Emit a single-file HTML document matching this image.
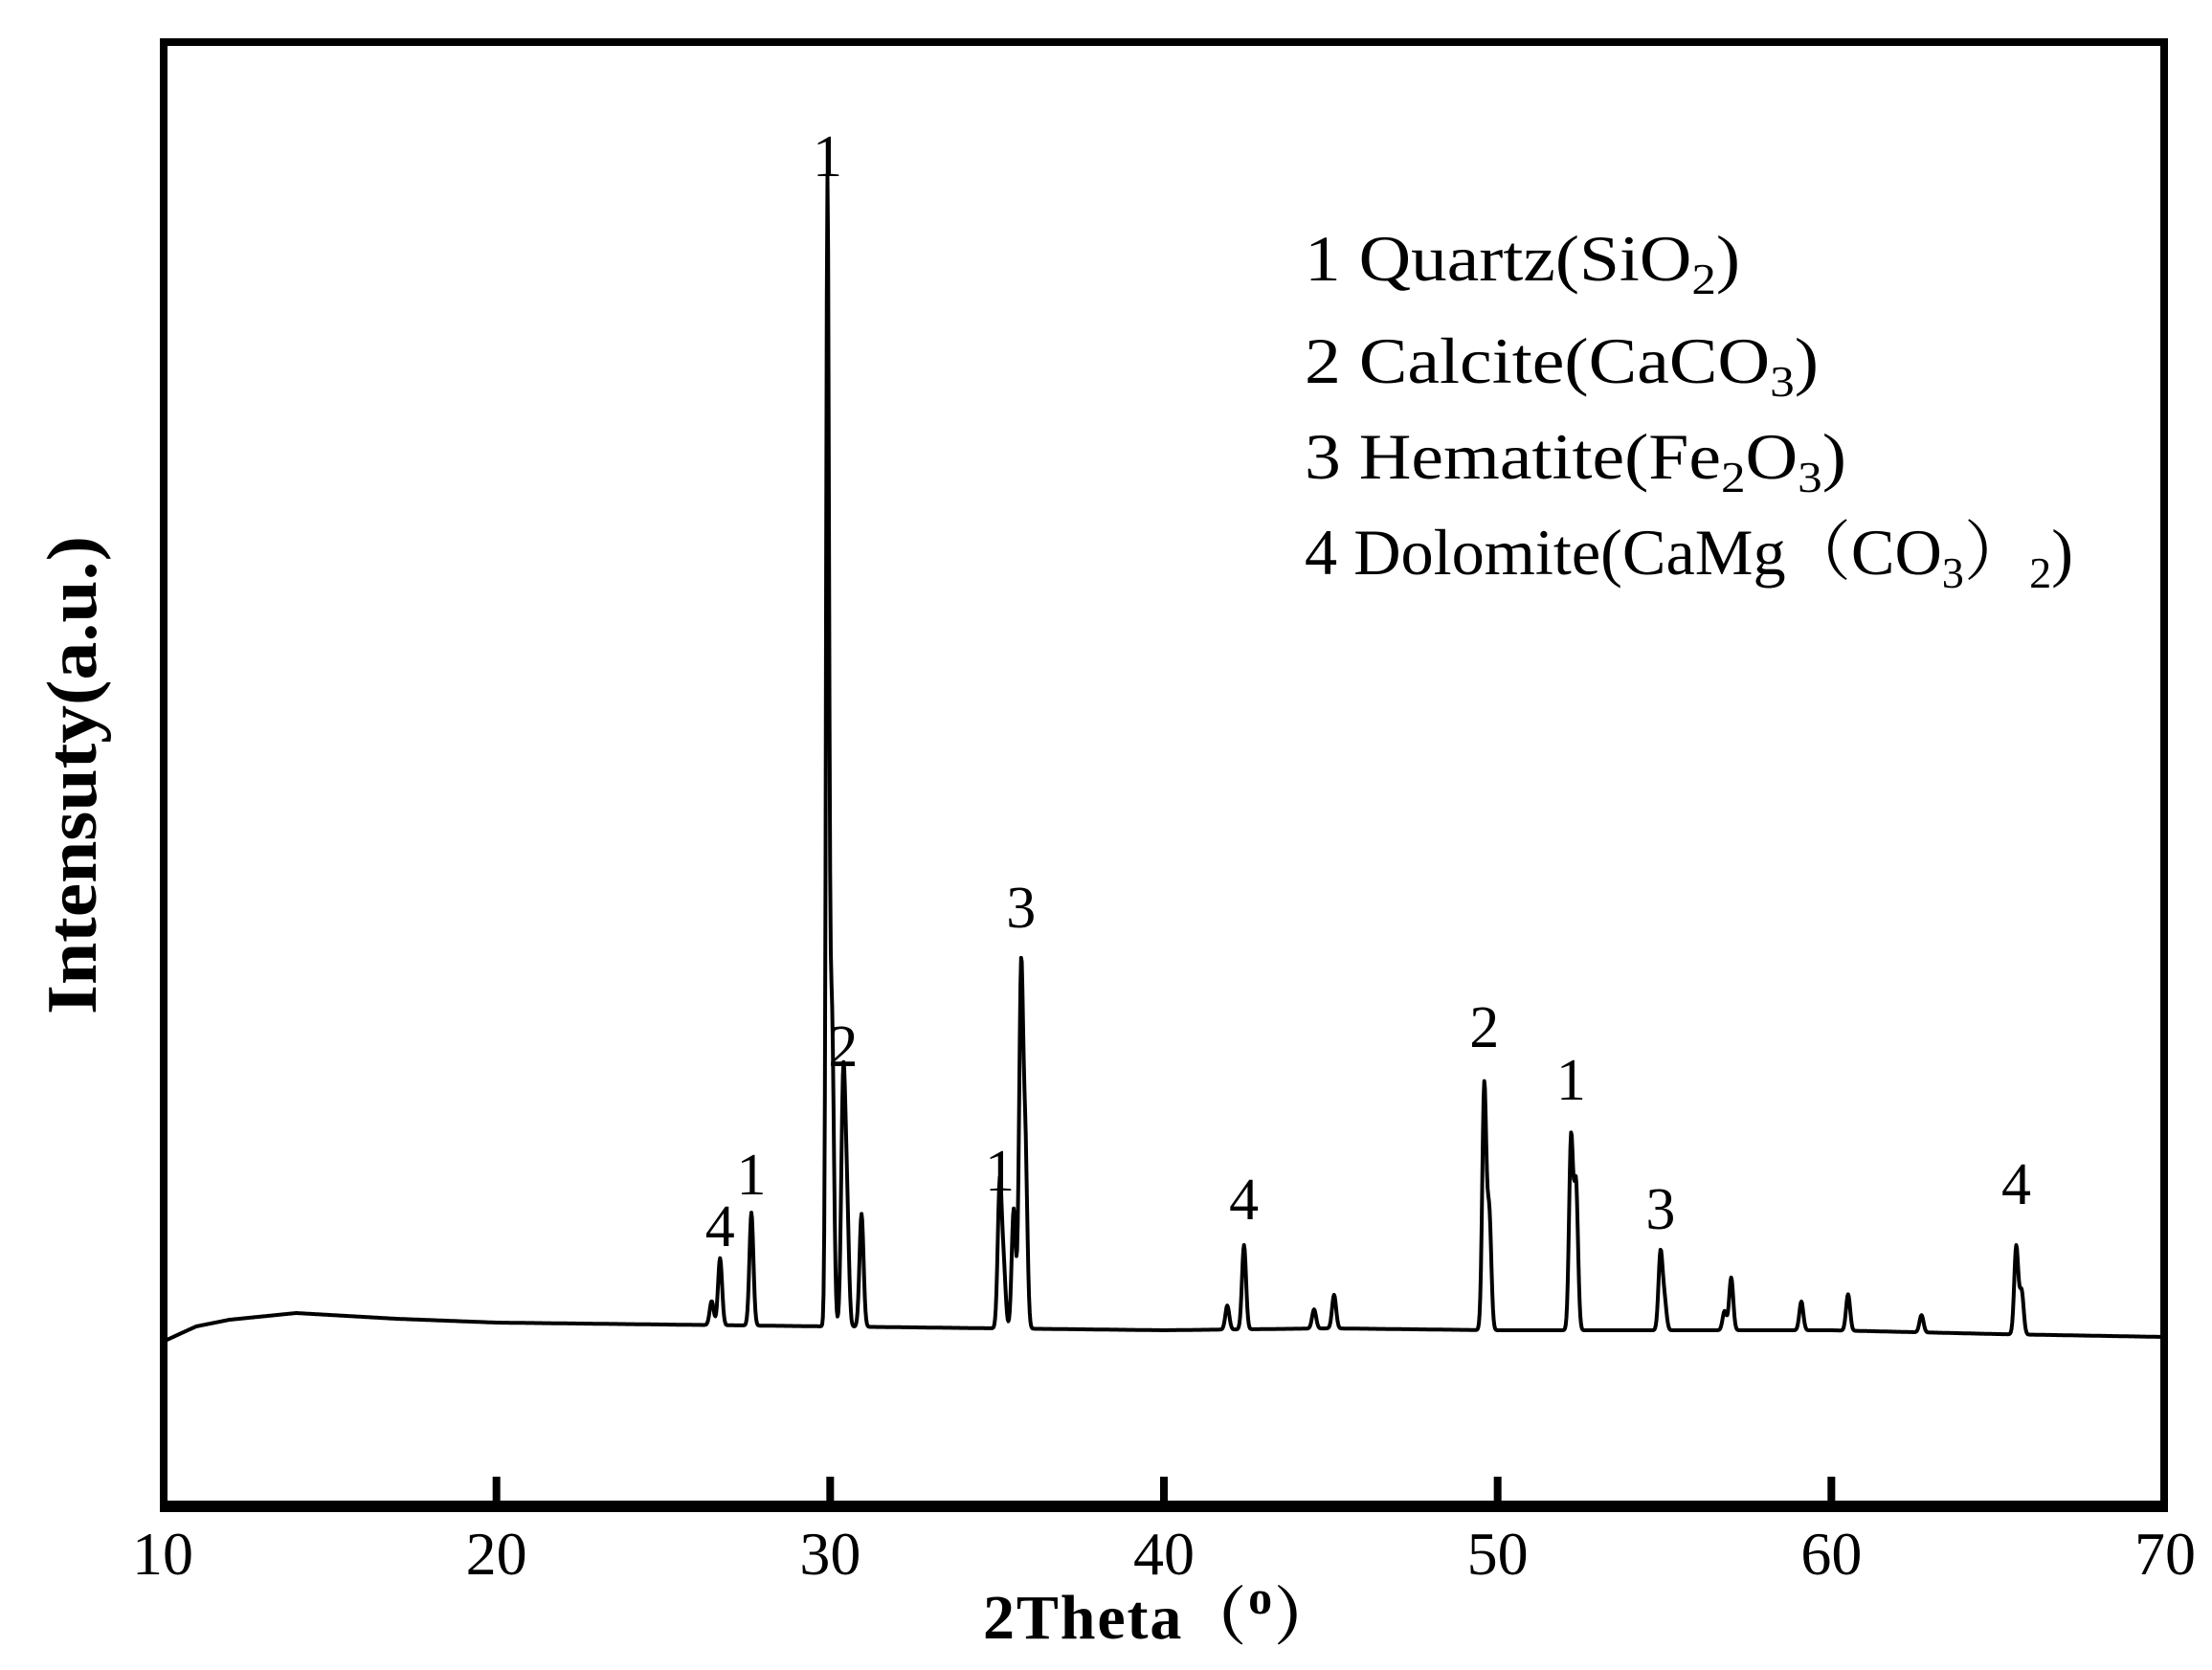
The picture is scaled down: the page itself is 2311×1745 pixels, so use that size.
<!DOCTYPE html>
<html><head><meta charset="utf-8"><style>
html,body{margin:0;padding:0;background:#fff}
svg text{font-family:"Liberation Serif","Noto Serif CJK SC",serif;fill:#000}
</style></head><body>
<svg id="chart" width="2311" height="1740" viewBox="0 0 2311 1740" xmlns="http://www.w3.org/2000/svg">
<rect x="171" y="44" width="2090" height="1530" fill="none" stroke="#000" stroke-width="8"/>
<line x1="167" y1="1574" x2="2265" y2="1574" stroke="#000" stroke-width="12"/>
<g id="ticks"></g>
<g id="ticklabels" font-size="64" text-anchor="middle"></g>
<path id="pattern" fill="none" stroke="#000" stroke-width="4" stroke-linejoin="round"/>
<g id="peaklabels" font-size="62" text-anchor="middle"></g>
<text x="1212" y="1712" font-size="66" font-weight="bold" text-anchor="middle" textLength="370">2Theta（<tspan font-size="50" dy="-26">o</tspan><tspan dy="26">）</tspan></text>
<text transform="translate(100,810) rotate(-90)" font-size="74" font-weight="bold" text-anchor="middle" textLength="500" lengthAdjust="spacingAndGlyphs">Intensuty(a.u.)</text>
<g font-size="68">
<text x="1363" y="293" textLength="455" lengthAdjust="spacingAndGlyphs">1 Quartz(SiO<tspan font-size="46" dy="14">2</tspan><tspan dy="-14">)</tspan></text>
<text x="1363" y="400" textLength="537" lengthAdjust="spacingAndGlyphs">2 Calcite(CaCO<tspan font-size="46" dy="14">3</tspan><tspan dy="-14">)</tspan></text>
<text x="1363" y="500" textLength="566" lengthAdjust="spacingAndGlyphs">3 Hematite(Fe<tspan font-size="46" dy="14">2</tspan><tspan dy="-14">O</tspan><tspan font-size="46" dy="14">3</tspan><tspan dy="-14">)</tspan></text>
<text x="1363" y="600" textLength="803" lengthAdjust="spacingAndGlyphs">4 Dolomite(CaMg（CO<tspan font-size="46" dy="14">3</tspan><tspan dy="-14">）</tspan><tspan font-size="46" dy="14">2</tspan><tspan dy="-14">)</tspan></text>
</g>
</svg>
<script>
const xTicks=[10,20,30,40,50,60,70];
const bgTheta=[10,11,12,14,17,20,25,30,35,40,45,50,55,60,65,70];
const bgInt=[172,188,195,202,196,192,190,188,186,184,186,184,184,184,180,177];
const peakPos=[26.45,26.7,27.64,29.92,30.05,30.39,30.5,30.94,35.08,35.2,35.5,35.72,35.85,41.9,42.4,44.5,45.1,49.6,49.75,52.2,52.35,54.88,55.0,56.8,57.0,59.1,60.5,62.7,65.54,65.7];
const peakHeight=[25,70,118,1170,330,250,120,118,150,60,125,370,180,25,88,20,35,255,120,200,150,80,30,20,55,30,38,18,92,45];
const labelTheta=[26.7,27.64,29.92,30.39,35.08,35.72,42.4,49.6,52.2,54.88,65.54];
const labelText=["4","1","1","2","1","3","4","2","1","3","4"];
const labelInt=[272,326,1390,460,330,605,300,480,425,290,316];
const X0=170,X1=2262,T0=10,T1=70,YB=1574;
function xs(t){return X0+(t-T0)/(T1-T0)*(X1-X0);}
function ys(i){return YB-i;}
function bg(t){for(let k=0;k<bgTheta.length-1;k++){if(t<=bgTheta[k+1]){const f=(t-bgTheta[k])/(bgTheta[k+1]-bgTheta[k]);return bgInt[k]+f*(bgInt[k+1]-bgInt[k]);}}return bgInt[bgInt.length-1];}
const NS="http://www.w3.org/2000/svg";
const tg=document.getElementById('ticks'),lg=document.getElementById('ticklabels');
xTicks.forEach(t=>{
  if(t>T0&&t<T1){const l=document.createElementNS(NS,'line');
  
  
  l.setAttribute('x1',xs(t));l.setAttribute('x2',xs(t));l.setAttribute('y1',1543);l.setAttribute('y2',1574);l.setAttribute('stroke','#000');l.setAttribute('stroke-width',8);tg.appendChild(l);}
  const tx=document.createElementNS(NS,'text');
  
  
  tx.setAttribute('x',xs(t));tx.setAttribute('y',1645);tx.textContent=t;lg.appendChild(tx);
});
let d='';
for(let t=T0;t<=T1;t+=0.02){
  let v=bg(t);
  for(let k=0;k<peakPos.length;k++){const s=peakPos[k]===29.92?0.045:0.06;v+=peakHeight[k]*Math.exp(-Math.pow(t-peakPos[k],2)/(2*s*s));}
  d+=(d?'L':'M')+xs(t).toFixed(1)+','+ys(v).toFixed(1);
}
document.getElementById('pattern').setAttribute('d',d);
const pl=document.getElementById('peaklabels');
labelTheta.forEach((t,i)=>{const tx=document.createElementNS(NS,'text');
  
  
  tx.setAttribute('x',xs(t));tx.setAttribute('y',ys(labelInt[i]));tx.textContent=labelText[i];pl.appendChild(tx);});
</script>
</body></html>
